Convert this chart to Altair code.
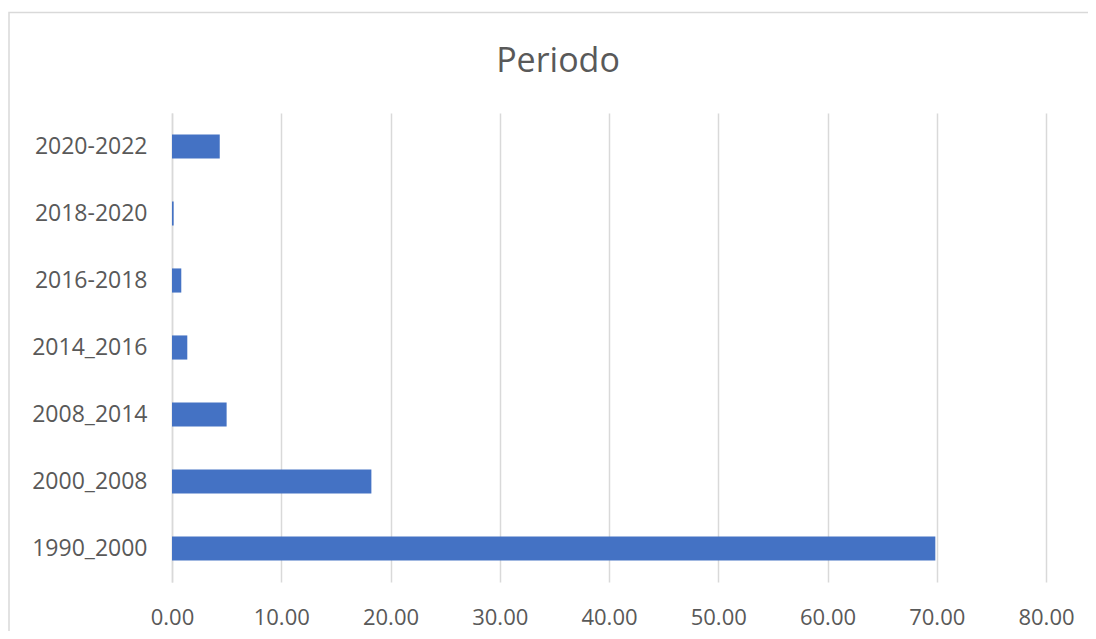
import altair as alt
import pandas as pd

categories = ["2020-2022", "2018-2020", "2016-2018", "2014_2016", "2008_2014", "2000_2008", "1990_2000"]
values = [4.37, 0.15, 0.85, 1.40, 5.00, 18.25, 69.87]
x_ticks = [0, 10, 20, 30, 40, 50, 60, 70, 80]

df = pd.DataFrame({"periodo": categories, "valor": values})

FONT = "Open Sans"
TXT = "#595959"
GRID = "#d9d9d9"

bars = alt.Chart(df).mark_bar(color="#4472C4").encode(
    y=alt.Y("periodo:N", sort=categories,
            scale=alt.Scale(paddingInner=0.64, paddingOuter=0.32),
            axis=alt.Axis(title=None, ticks=False, domain=True, domainColor=GRID,
                          domainWidth=1.5, labelFont=FONT, labelFontSize=23,
                          labelColor=TXT, labelPadding=25, grid=False)),
    x=alt.X("valor:Q", scale=alt.Scale(domain=[0, 80], nice=False),
            axis=alt.Axis(title=None, values=x_ticks, format=".2f", ticks=False,
                          domain=False, grid=True, gridColor=GRID, gridWidth=1.5,
                          labelFont=FONT, labelFontSize=22, labelColor=TXT,
                          labelPadding=25, labelFlush=False, labelOverlap=False)),
)

frame = alt.Chart(pd.DataFrame({"k": [0]})).mark_rect(
    fill=None, stroke=GRID, strokeWidth=1.5
).encode(
    x=alt.value(-163), x2=alt.value(940),
    y=alt.value(-100.5), y2=alt.value(540),
)

chart = alt.layer(frame, bars).properties(
    width=874, height=469,
    padding={"left": 164, "top": 105, "right": 42, "bottom": 49},
    autosize=alt.AutoSizeParams(type="none"),
    title=alt.TitleParams("Periodo", font=FONT, fontSize=34, fontWeight="normal",
                          color=TXT, anchor="middle", dx=-51, offset=36, dy=103,
                          frame="group"),
).configure_view(stroke=None)

chart.save("out.html", embed_options={"renderer": "svg", "actions": False})
